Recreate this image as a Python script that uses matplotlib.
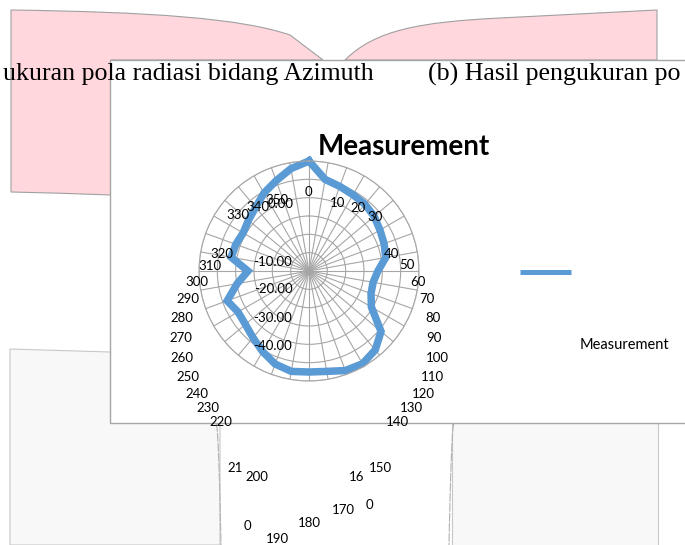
import numpy as np
import matplotlib
matplotlib.use("Agg")
import matplotlib.pyplot as plt
from matplotlib.patches import Polygon, Rectangle, PathPatch
from matplotlib.path import Path

# ---------------- data ----------------
angles_deg = list(range(0, 360, 10))
measurement = [10.0, 0.7, -0.9, -2.0, -2.5, -3.6, -5.3, -6.4, -7.5, -12.4,
               -14.5, -14.0, -10.7, 1.3, 6.2, 8.4, 7.8, 5.6, 5.1, 5.6,
               4.0, 0.7, -2.5, -4.7, -5.3, -2.5, -10.2, -16.7, -6.9, -7.5,
               -8.5, -6.9, -4.7, -0.9, 2.4, 6.7]
r_min, r_max, r_step = -50, 10, 10
radial_labels = ["0.00", "-10.00", "-20.00", "-30.00", "-40.00"]
category_labels = ["0", "10", "20", "30", "40", "50", "60", "70", "80", "90",
                   "100", "110", "120", "130", "140", "150", "16", "0", "170",
                   "180", "190", "0", "200", "21", "220", "230", "240", "250",
                   "260", "270", "280", "290", "300", "310", "320", "330",
                   "340", "350"]
title = "Measurement"
series_name = "Measurement"
header_left = "ukuran pola radiasi bidang Azimuth"
header_right = "(b) Hasil pengukuran po"

# ---------------- layout (pixels) ----------------
W, H = 685, 545
cat_pos = [(308, 192), (338, 203), (358, 208), (375, 217), (392, 254), (407, 265),
           (418, 282), (427, 299), (433, 318), (434, 338), (437, 358), (432, 377),
           (423, 394), (411, 408), (397, 422), (380, 468), (357, 477), (369, 505),
           (343, 510), (309, 523), (277, 539), (247, 526), (257, 477), (235, 468),
           (221, 422), (208, 408), (197, 394), (188, 377), (182, 358), (181, 338),
           (182, 318), (188, 299), (197, 282), (210, 266), (222, 254), (238, 215),
           (258, 207), (277, 200)]
rad_pos = [(281, 204), (273, 262), (273, 289), (273, 318), (273, 346)]
center = (309, 271)
R = 110

BLUE = "#5B9BD5"
GRID = "#A6A6A6"
PINK = "#FFD7DC"
LGRAY = "#F8F8F8"

fig = plt.figure(figsize=(W / 100, H / 100), dpi=100)
fig.patch.set_facecolor("white")

bg = fig.add_axes([0, 0, 1, 1], zorder=0)
bg.set_xlim(0, W)
bg.set_ylim(H, 0)
bg.axis("off")

# light gray page regions (bottom)
bg.add_patch(Polygon([(10, 349), (110, 352), (220, 352), (220, 545), (10, 545)],
                     closed=True, facecolor=LGRAY, edgecolor="#C8C8C8", lw=0.8))
bg.add_patch(Rectangle((452, 352), 206, 200, facecolor=LGRAY, edgecolor="#C8C8C8", lw=0.8))
# curved separators
yy = np.linspace(423, 545, 30)
bg.plot(216 + 5 * ((yy - 423) / 122) ** 0.5, yy, color="#B0B0B0", lw=0.8, ls=(0, (8, 1)))
bg.plot(454 - 5 * ((yy - 423) / 122) ** 0.5, yy, color="#B0B0B0", lw=0.8, ls=(0, (8, 1)))

# pink shapes (top)
left_pink = Path([(11, 10), (150, 12), (240, 18), (290, 35), (323, 60),
                  (111, 60), (111, 195), (60, 193), (11, 192), (11, 10)],
                 [Path.MOVETO, Path.CURVE4, Path.CURVE4, Path.CURVE4, Path.LINETO,
                  Path.LINETO, Path.LINETO, Path.CURVE3, Path.CURVE3, Path.CLOSEPOLY])
bg.add_patch(PathPatch(left_pink, facecolor=PINK, edgecolor="#A0A0A0", lw=0.8))
right_pink = Path([(345, 60), (375, 30), (420, 22), (500, 18), (657, 10),
                   (657, 60), (345, 60)],
                  [Path.MOVETO, Path.CURVE4, Path.CURVE4, Path.CURVE4, Path.LINETO,
                   Path.LINETO, Path.CLOSEPOLY])
bg.add_patch(PathPatch(right_pink, facecolor=PINK, edgecolor="#A0A0A0", lw=0.8))

# chart area box
bg.add_patch(Rectangle((110, 60), 600, 363, facecolor="white", edgecolor="#A6A6A6", lw=1.0))

# legend line
bg.plot([520, 571], [272, 272], color=BLUE, lw=3.6, solid_capstyle="butt")

# ---------------- radar ----------------
ax = fig.add_axes([(center[0] - R) / W, (H - center[1] - R) / H, 2 * R / W, 2 * R / H],
                  projection="polar", zorder=1)
ax.patch.set_alpha(0)
ax.set_theta_zero_location("N")
ax.set_theta_direction(-1)
ax.set_ylim(r_min, r_max)
ax.set_yticks(np.arange(r_min + r_step, r_max + 1, r_step))
ax.set_yticklabels([])
ax.set_xticks(np.deg2rad(angles_deg))
ax.set_xticklabels([])
ax.grid(True, color=GRID, lw=0.8)
ax.spines["polar"].set_color(GRID)
ax.spines["polar"].set_linewidth(0.8)
ax.tick_params(length=0)

th = np.deg2rad(angles_deg + [angles_deg[0]])
vals = measurement + [measurement[0]]
ax.plot(th, vals, color=BLUE, lw=5.4, solid_joinstyle="miter", clip_on=False)

# ---------------- texts ----------------
def fx(x):
    return x / W

def fy(y):
    return 1 - y / H

lab_font = dict(family=["Lato", "DejaVu Sans"], fontsize=9.5, color="black",
                ha="center", va="center")
for s, (x, y) in zip(category_labels, cat_pos):
    fig.text(fx(x), fy(y), s, **lab_font)
for s, (x, y) in zip(radial_labels, rad_pos):
    fig.text(fx(x), fy(y), s, **lab_font)

fig.text(fx(404), fy(147), title, family=["Lato", "DejaVu Sans"], fontsize=20,
         fontweight="bold", ha="center", va="center")
fig.text(fx(624), fy(345), series_name, family=["Lato", "DejaVu Sans"], fontsize=10.5,
         ha="center", va="center")

fig.text(fx(374), fy(74), header_left, family=["Liberation Serif", "DejaVu Serif"],
         fontsize=18.6, ha="right", va="center")
fig.text(fx(428), fy(74), header_right, family=["Liberation Serif", "DejaVu Serif"],
         fontsize=18.6, ha="left", va="center")

fig.savefig("out.png", dpi=100)
